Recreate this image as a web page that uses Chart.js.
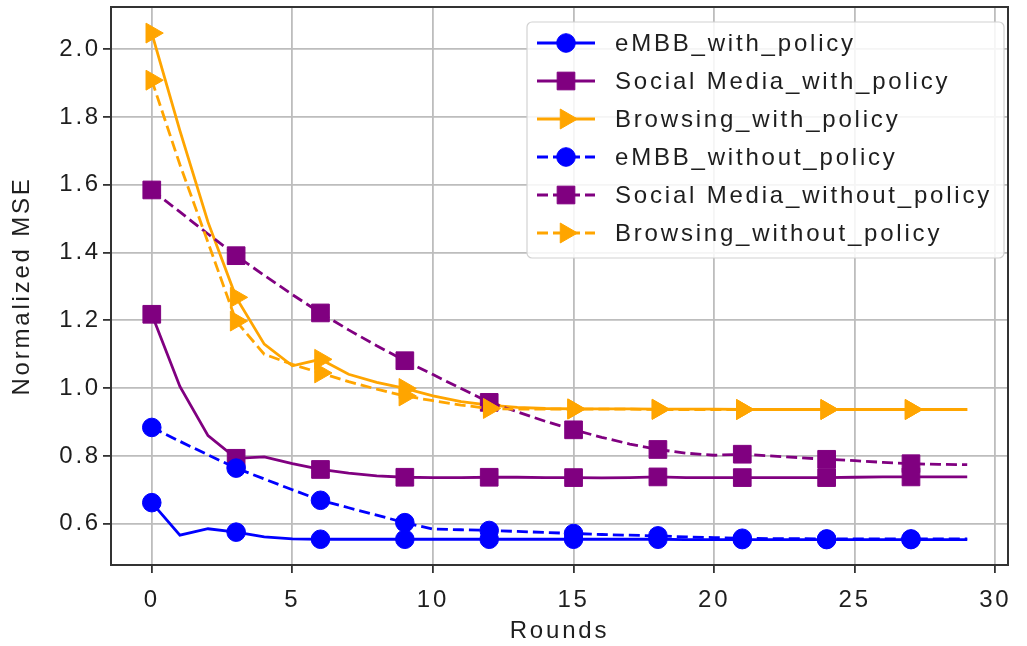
<!DOCTYPE html>
<html>
<head>
<meta charset="utf-8">
<script src="https://cdn.jsdelivr.net/npm/chart.js@4.4.1/dist/chart.umd.min.js"></script>
<style>
    html, body { margin: 0; padding: 0; background: #ffffff; }
    #wrap { width: 1027px; height: 646px; }
</style>
</head>
<body>
<div id="wrap"><canvas id="mseChart" width="1027" height="646"></canvas></div>
<script>
// ===== DATA =====
const rounds = [0, 1, 2, 3, 4, 5, 6, 7, 8, 9, 10, 11, 12, 13, 14, 15, 16, 17, 18, 19, 20, 21, 22, 23, 24, 25, 26, 27, 28, 29];

const embbWith = [0.662, 0.566, 0.585, 0.575, 0.561, 0.555, 0.554, 0.554, 0.554, 0.554, 0.554, 0.554, 0.554, 0.554, 0.554,
                  0.554, 0.554, 0.554, 0.554, 0.553, 0.553, 0.553, 0.553, 0.553, 0.553, 0.553, 0.553, 0.553, 0.553, 0.553];
const socialWith = [1.218, 1.005, 0.860, 0.793, 0.797, 0.777, 0.760, 0.749, 0.741, 0.737, 0.736, 0.736, 0.737, 0.737, 0.736,
                    0.736, 0.735, 0.736, 0.738, 0.736, 0.736, 0.736, 0.736, 0.736, 0.736, 0.737, 0.738, 0.738, 0.738, 0.738];
const browsingWith = [2.048, 1.760, 1.490, 1.268, 1.130, 1.066, 1.085, 1.041, 1.017, 0.999, 0.977, 0.960, 0.950, 0.943, 0.940,
                      0.939, 0.939, 0.939, 0.938, 0.938, 0.938, 0.937, 0.937, 0.937, 0.937, 0.937, 0.937, 0.937, 0.937, 0.937];
const embbWithout = [0.884, 0.843, 0.803, 0.764, 0.732, 0.700, 0.669, 0.647, 0.625, 0.603, 0.584, 0.582, 0.580, 0.577, 0.574,
                     0.571, 0.568, 0.566, 0.564, 0.561, 0.559, 0.557, 0.556, 0.556, 0.555, 0.555, 0.555, 0.555, 0.555, 0.555];
const socialWithout = [1.585, 1.520, 1.455, 1.391, 1.333, 1.276, 1.222, 1.172, 1.125, 1.081, 1.040, 0.999, 0.958, 0.930, 0.902,
                       0.877, 0.855, 0.835, 0.819, 0.808, 0.802, 0.805, 0.800, 0.795, 0.790, 0.786, 0.781, 0.777, 0.775, 0.774];
const browsingWithout = [1.909, 1.660, 1.430, 1.198, 1.100, 1.070, 1.045, 1.019, 0.997, 0.977, 0.963, 0.950, 0.940, 0.938, 0.938,
                         0.938, 0.938, 0.938, 0.937, 0.937, 0.937, 0.937, 0.937, 0.937, 0.937, 0.937, 0.937, 0.937, 0.937, 0.937];

const xTicks = [0, 5, 10, 15, 20, 25, 30];
const yTicks = [0.6, 0.8, 1.0, 1.2, 1.4, 1.6, 1.8, 2.0];

// ===== STYLE =====
const BLUE = "#0000ff";
const PURPLE = "#800080";
const ORANGE = "#ffa500";
const TEXT = "#1e1e1e";
const GRID = "#bdbdbd";
const FONT = { family: "'Liberation Sans', Arial, sans-serif", size: 24 };
const LETTER_SPACING = "2.8px";
const DASH = [11, 5];

function series(label, data, color, style, dashed, order) {
    return {
        label: label,
        data: data,
        borderColor: color,
        backgroundColor: color,
        borderWidth: 2.8,
        borderDash: dashed ? DASH : [],
        pointStyle: style,
        pointRotation: style === "triangle" ? 90 : 0,
        pointRadius: ctx => ctx.dataIndex % 3 === 0 ? markerSize(style) : 0,
        pointHoverRadius: 0,
        pointBackgroundColor: color,
        pointBorderColor: color,
        pointBorderWidth: 1,
        tension: 0,
        fill: false,
        order: order
    };
}

function markerSize(style) {
    if (style === "rect") return 12.5;
    if (style === "triangle") return 11.5;
    return 9.3;
}

/* ===== PLUGINS ===== */
const letterSpacing = {
    id: "letterSpacing",
    beforeUpdate(chart) { chart.ctx.letterSpacing = LETTER_SPACING; },
    beforeDraw(chart) { chart.ctx.letterSpacing = LETTER_SPACING; }
};

const frameAndLegend = {
    id: "frameAndLegend",
    afterDatasetsDraw(chart) {
        const { ctx, chartArea } = chart;

        // axes box on all four sides
        ctx.save();
        ctx.strokeStyle = "#333333";
        ctx.lineWidth = 2;
        ctx.strokeRect(chartArea.left, chartArea.top, chartArea.right - chartArea.left, chartArea.bottom - chartArea.top);

        // legend box
        const w = 477, h = 236;
        const x0 = chartArea.right - 4 - w;
        const y0 = chartArea.top + 15;
        ctx.beginPath();
        ctx.roundRect(x0, y0, w, h, 5);
        ctx.fillStyle = "rgba(255,255,255,0.85)";
        ctx.fill();
        ctx.strokeStyle = "#d2d2d2";
        ctx.lineWidth = 1.2;
        ctx.stroke();

        chart.data.datasets.forEach((ds, i) => {
            const cy = y0 + 21 + i * 38;
            ctx.strokeStyle = ds.borderColor;
            ctx.lineWidth = ds.borderWidth;
            ctx.setLineDash(ds.borderDash);
            ctx.beginPath();
            ctx.moveTo(x0 + 10, cy);
            ctx.lineTo(x0 + 68, cy);
            ctx.stroke();
            ctx.setLineDash([]);

            ctx.fillStyle = ds.borderColor;
            ctx.lineWidth = 1;
            Chart.helpers.drawPoint(ctx, {
                pointStyle: ds.pointStyle,
                rotation: ds.pointRotation,
                radius: markerSize(ds.pointStyle),
                borderWidth: 1
            }, x0 + 39, cy);

            ctx.fillStyle = TEXT;
            ctx.font = FONT.size + "px " + FONT.family;
            ctx.letterSpacing = LETTER_SPACING;
            ctx.textAlign = "left";
            ctx.textBaseline = "middle";
            ctx.fillText(ds.label, x0 + 88, cy + 1);
        });
        ctx.restore();
    }
};

// keep the plot area exactly where the layout padding puts it
function noEdgePadding(axis) {
    axis.paddingLeft = 0;
    axis.paddingRight = 0;
    axis.paddingTop = 0;
    axis.paddingBottom = 0;
}

// ===== CHART =====
Chart.defaults.font.family = FONT.family;
Chart.defaults.font.size = FONT.size;
Chart.defaults.color = TEXT;

new Chart(document.getElementById("mseChart").getContext("2d"), {
    type: "line",
    data: {
        labels: rounds,
        datasets: [
            series("eMBB_with_policy", embbWith, BLUE, "circle", false, 5),
            series("Social Media_with_policy", socialWith, PURPLE, "rect", false, 4),
            series("Browsing_with_policy", browsingWith, ORANGE, "triangle", false, 3),
            series("eMBB_without_policy", embbWithout, BLUE, "circle", true, 2),
            series("Social Media_without_policy", socialWithout, PURPLE, "rect", true, 1),
            series("Browsing_without_policy", browsingWithout, ORANGE, "triangle", true, 0)
        ]
    },
    options: {
        responsive: false,
        animation: false,
        layout: { autoPadding: false, padding: { left: 0, right: 19, top: 7, bottom: 0 } },
        plugins: {
            legend: { display: false },
            tooltip: { enabled: false }
        },
        scales: {
            x: {
                type: "linear",
                min: -1.45,
                max: 30.45,
                afterBuildTicks: axis => { axis.ticks = xTicks.map(v => ({ value: v })); },
                afterFit: axis => { axis.height = 81; noEdgePadding(axis); },
                border: { display: false },
                grid: { color: GRID, lineWidth: 1.8, tickLength: 8, tickColor: "#333333", tickWidth: 1.8 },
                ticks: { font: FONT, color: TEXT, padding: 13, maxRotation: 0, callback: v => String(v) },
                title: { display: true, text: "Rounds", font: FONT, color: TEXT, padding: { top: 0, bottom: 0 } }
            },
            y: {
                min: 0.478,
                max: 2.125,
                afterBuildTicks: axis => { axis.ticks = yTicks.map(v => ({ value: v })); },
                afterFit: axis => { axis.width = 111; noEdgePadding(axis); },
                border: { display: false },
                grid: { color: GRID, lineWidth: 1.8, tickLength: 8, tickColor: "#333333", tickWidth: 1.8 },
                ticks: { font: FONT, color: TEXT, padding: 2, callback: v => Number(v).toFixed(1) },
                title: { display: true, text: "Normalized MSE", font: FONT, color: TEXT, padding: { top: 8, bottom: 0 } }
            }
        }
    },
    plugins: [letterSpacing, frameAndLegend]
});
</script>
</body>
</html>
